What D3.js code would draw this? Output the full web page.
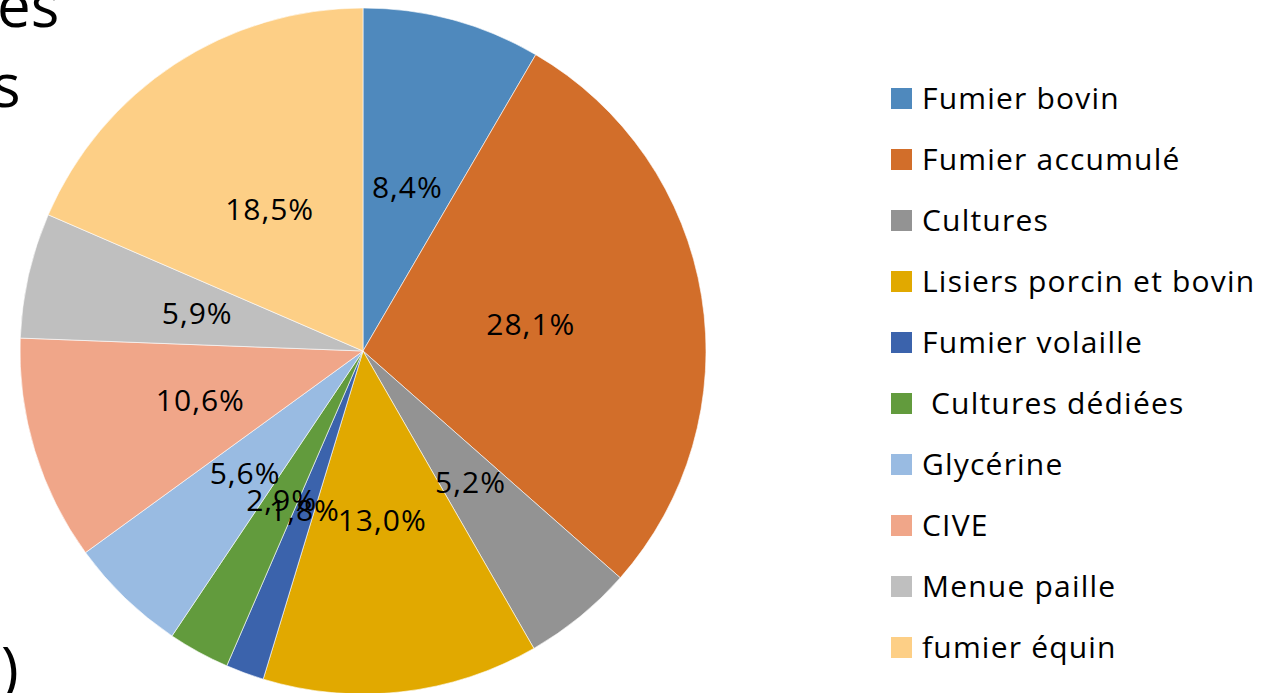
<!DOCTYPE html>
<html><head><meta charset="utf-8">
<script src="https://cdn.jsdelivr.net/npm/d3@7"></script>
<style>body{margin:0;background:#fff;}svg{display:block;font-family:"Open Sans","Noto Sans",sans-serif;}</style>
</head><body>
<svg id="c" width="1278" height="693"></svg>
<script>
const categories = ["Fumier bovin","Fumier accumulé","Cultures","Lisiers porcin et bovin","Fumier volaille"," Cultures dédiées","Glycérine","CIVE","Menue paille","fumier équin"];
const values = [8.4, 28.1, 5.2, 13.0, 1.8, 2.9, 5.6, 10.6, 5.9, 18.5];
const labels = ["8,4%","28,1%","5,2%","13,0%","1,8%","2,9%","5,6%","10,6%","5,9%","18,5%"];
const colors = ["#4F89BD","#D26E2A","#939393","#E1A900","#3B63AC","#629B3D","#99BBE2","#F0A689","#BFBFBF","#FDCF86"];

const svg = d3.select("#c");
const cx = 363, cy = 351, r = 343;

// Slide title fragments cut by the crop
svg.append("text").attr("x", -3).attr("y", 27).attr("font-size", 60).attr("fill", "#000").text("es");
svg.append("text").attr("x", -8).attr("y", 107).attr("font-size", 60).attr("fill", "#000").text("s");
svg.append("text").attr("x", 1).attr("y", 690).attr("font-size", 60).attr("fill", "#000").text(")");

const pie = d3.pie().sort(null).value(d => d);
const arcs = pie(values);
const arc = d3.arc().innerRadius(0).outerRadius(r);
const labelArc = d3.arc().innerRadius(170).outerRadius(170);

const g = svg.append("g").attr("transform", `translate(${cx},${cy})`);
g.selectAll("path").data(arcs).join("path")
  .attr("d", arc).attr("fill", (d, i) => colors[i])
  .attr("stroke", "#fff").attr("stroke-width", 0.6);

g.selectAll("text.lab").data(arcs).join("text")
  .attr("class", "lab")
  .attr("transform", d => `translate(${labelArc.centroid(d)})`)
  .attr("text-anchor", "middle").attr("dy", "0.36em")
  .attr("font-size", 30).attr("letter-spacing", 1).attr("fill", "#000")
  .text((d, i) => labels[i]);

const y = d3.scaleBand().domain(categories).range([68, 678]);
const leg = svg.append("g");
const items = leg.selectAll("g").data(categories).join("g")
  .attr("transform", d => `translate(891,${y(d) + y.bandwidth() / 2})`);
items.append("rect").attr("x", 0).attr("y", -10.5).attr("width", 21).attr("height", 21)
  .attr("fill", (d, i) => colors[i]);
items.append("text").attr("x", 31).attr("y", 0).attr("dy", "0.36em")
  .attr("font-size", 30).attr("letter-spacing", 1.2).attr("fill", "#000")
  .style("white-space", "pre").text(d => d);
</script>
</body></html>
